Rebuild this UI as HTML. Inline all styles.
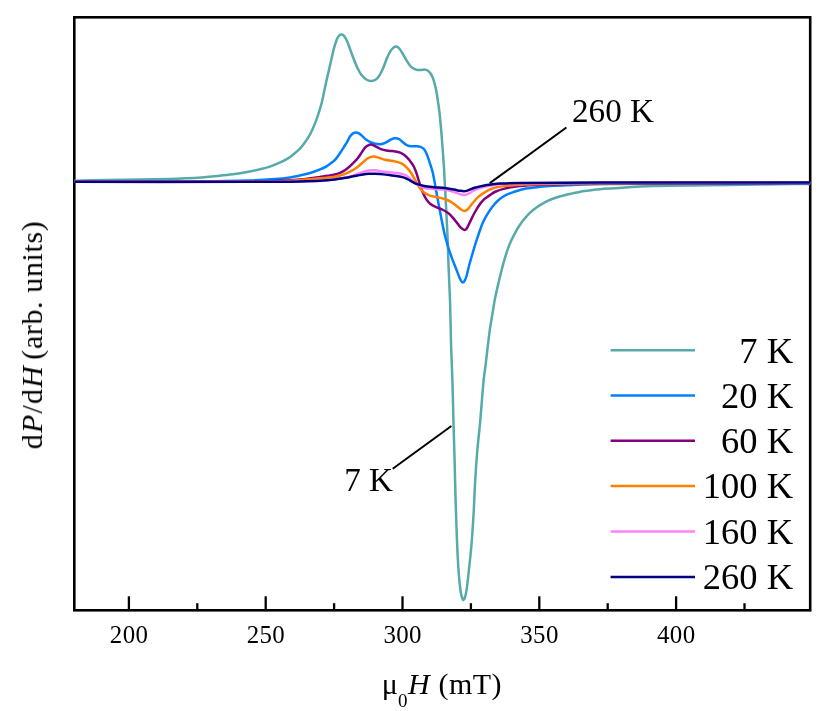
<!DOCTYPE html>
<html><head><meta charset="utf-8"><title>FMR spectra</title>
<style>
html,body{margin:0;padding:0;background:#fff;}
body{width:830px;height:711px;position:relative;overflow:hidden;font-family:"Liberation Serif",serif;}
</style></head><body>
<svg width="830" height="711" viewBox="0 0 830 711" style="position:absolute;left:0;top:0">
<rect x="0" y="0" width="830" height="711" fill="#fff"/>
<rect x="74.3" y="17.3" width="735.9000000000001" height="593.0" fill="none" stroke="#000" stroke-width="2.6"/>
<clipPath id="cp"><rect x="74.3" y="17.3" width="735.9000000000001" height="593.0"/></clipPath>
<g clip-path="url(#cp)" fill="none" stroke-width="2.5" stroke-linejoin="round" stroke-linecap="round">
<path d="M73.50,180.70C90.00,180.37 106.50,180.01 123.00,179.70C138.67,179.41 154.34,179.25 170.00,178.90C175.24,178.78 180.47,178.55 185.70,178.30C190.90,178.05 196.11,177.78 201.30,177.40C206.54,177.02 211.77,176.52 217.00,176.00C222.21,175.48 227.42,175.00 232.60,174.30C237.85,173.60 243.09,172.75 248.30,171.80C252.22,171.08 256.13,170.24 260.00,169.30C263.29,168.50 266.59,167.67 269.80,166.60C273.16,165.47 276.47,164.15 279.70,162.70C282.40,161.49 285.08,160.16 287.60,158.60C289.98,157.12 292.20,155.35 294.40,153.60C296.13,152.22 297.87,150.80 299.40,149.20C301.17,147.36 302.79,145.36 304.30,143.30C306.05,140.92 307.72,138.46 309.20,135.90C310.65,133.39 311.92,130.76 313.10,128.10C314.39,125.19 315.52,122.20 316.60,119.20C317.66,116.27 318.59,113.28 319.50,110.30C320.49,107.05 321.52,103.80 322.30,100.50C323.65,94.77 324.63,88.95 325.90,83.20C327.23,77.15 328.71,71.14 330.10,65.10C331.31,59.87 332.35,54.59 333.70,49.40C334.55,46.16 335.47,42.90 336.70,39.80C337.30,38.30 338.13,36.73 339.20,35.60C339.77,35.00 340.82,34.55 341.60,34.60C342.42,34.65 343.43,35.23 344.00,35.90C345.23,37.36 346.19,39.21 347.00,41.00C348.39,44.11 349.41,47.40 350.60,50.60C351.81,53.83 352.93,57.10 354.20,60.30C355.33,63.13 356.44,65.98 357.80,68.70C358.84,70.78 359.97,72.88 361.40,74.70C362.80,76.48 364.43,78.29 366.30,79.50C367.67,80.39 369.50,81.00 371.10,81.00C372.70,81.00 374.57,80.40 375.90,79.50C377.37,78.50 378.53,76.85 379.50,75.30C381.03,72.85 382.24,70.16 383.40,67.50C384.74,64.43 385.67,61.17 387.00,58.10C388.07,55.64 389.20,53.17 390.60,50.90C391.40,49.60 392.42,48.29 393.60,47.40C394.32,46.86 395.46,46.44 396.30,46.60C397.36,46.80 398.54,47.63 399.30,48.50C400.74,50.16 401.73,52.28 402.90,54.20C404.13,56.22 405.25,58.30 406.50,60.30C407.65,62.13 408.71,64.07 410.10,65.70C411.11,66.87 412.37,67.93 413.70,68.70C414.77,69.33 416.07,69.70 417.30,69.90C418.50,70.10 419.77,69.97 421.00,69.90C422.20,69.83 423.43,69.39 424.60,69.50C425.63,69.59 426.75,69.93 427.60,70.50C428.75,71.26 429.81,72.35 430.60,73.50C431.61,74.95 432.36,76.64 433.00,78.30C433.76,80.27 434.28,82.35 434.80,84.40C435.41,86.78 435.95,89.18 436.40,91.60C436.95,94.55 437.35,97.53 437.80,100.50C438.28,103.70 438.81,106.89 439.20,110.10C439.78,114.92 440.25,119.76 440.70,124.60C441.15,129.43 441.51,134.27 441.90,139.10C442.31,144.30 442.72,149.50 443.10,154.70C443.42,159.13 443.74,163.56 444.00,168.00C444.27,172.50 444.46,177.00 444.70,181.50C445.06,188.20 445.45,194.90 445.80,201.60C446.12,207.63 446.41,213.67 446.70,219.70C447.01,225.97 447.35,232.23 447.60,238.50C447.88,245.53 448.04,252.57 448.30,259.60C448.60,267.63 448.97,275.67 449.30,283.70C449.57,290.13 449.91,296.56 450.10,303.00C450.51,317.16 450.68,331.34 451.10,345.50C451.45,357.17 452.04,368.83 452.40,380.50C452.87,395.83 453.18,411.17 453.60,426.50C453.91,437.83 454.29,449.17 454.60,460.50C454.96,473.83 455.19,487.17 455.60,500.50C456.06,515.54 456.55,530.57 457.20,545.60C457.59,554.61 458.04,563.61 458.70,572.60C459.14,578.61 459.69,584.63 460.50,590.60C460.83,593.03 461.37,595.48 462.10,597.80C462.37,598.65 463.05,600.16 463.50,600.10C464.02,600.03 464.72,598.38 465.00,597.40C465.82,594.48 466.38,591.43 466.80,588.40C467.74,581.66 468.37,574.87 469.10,568.10C469.91,560.60 470.78,553.11 471.40,545.60C472.28,534.91 472.98,524.21 473.60,513.50C474.24,502.51 474.55,491.49 475.20,480.50C475.79,470.49 476.46,460.49 477.30,450.50C478.09,441.15 479.26,431.84 480.10,422.50C481.36,408.51 482.27,394.48 483.60,380.50C484.07,375.58 484.90,370.70 485.50,365.80C486.97,353.80 488.20,341.78 489.80,329.80C490.53,324.34 491.60,318.93 492.50,313.50C493.33,308.50 494.01,303.47 495.00,298.50C496.15,292.74 497.54,287.02 498.90,281.30C500.24,275.65 501.58,270.00 503.10,264.40C504.34,259.83 505.69,255.28 507.20,250.80C508.26,247.65 509.47,244.54 510.80,241.50C511.90,238.98 513.19,236.52 514.50,234.10C516.02,231.29 517.56,228.48 519.30,225.80C520.76,223.54 522.39,221.38 524.10,219.30C525.99,217.01 527.96,214.75 530.10,212.70C531.96,210.92 534.02,209.32 536.10,207.80C538.05,206.38 540.12,205.12 542.20,203.90C544.15,202.75 546.15,201.66 548.20,200.70C550.15,199.79 552.17,199.03 554.20,198.30C556.17,197.59 558.19,197.00 560.20,196.40C562.22,195.80 564.25,195.21 566.30,194.70C568.29,194.21 570.30,193.82 572.30,193.40C574.30,192.98 576.30,192.58 578.30,192.20C580.30,191.82 582.29,191.42 584.30,191.10C586.33,190.78 588.36,190.55 590.40,190.30C593.60,189.91 596.79,189.49 600.00,189.20C603.33,188.89 606.66,188.70 610.00,188.50C624.33,187.66 638.66,186.58 653.00,186.10C670.66,185.51 688.33,185.58 706.00,185.30C724.00,185.01 742.00,184.64 760.00,184.40C777.00,184.17 794.00,184.07 811.00,183.90" stroke="#57AAAA"/>
<path d="M73.50,181.70C115.67,181.60 157.84,181.69 200.00,181.40C216.67,181.29 233.34,181.01 250.00,180.50C258.34,180.24 266.68,179.72 275.00,179.10C280.01,178.72 285.03,178.21 290.00,177.50C293.23,177.04 296.42,176.31 299.60,175.60C302.85,174.88 306.11,174.16 309.30,173.20C312.55,172.22 315.75,171.06 318.90,169.80C321.52,168.76 324.16,167.69 326.60,166.30C328.66,165.12 330.50,163.55 332.40,162.10C333.30,161.41 334.23,160.73 335.00,159.90C336.03,158.78 336.89,157.48 337.80,156.25C338.76,154.95 339.71,153.64 340.60,152.30C341.58,150.83 342.46,149.30 343.40,147.80C344.34,146.30 345.33,144.82 346.25,143.30C346.93,142.18 347.56,141.04 348.20,139.90C348.87,138.70 349.38,137.39 350.20,136.30C351.01,135.22 351.98,134.11 353.10,133.40C353.92,132.88 355.03,132.60 356.00,132.60C356.97,132.60 358.04,132.92 358.90,133.40C360.14,134.09 361.20,135.16 362.30,136.10C363.60,137.20 364.75,138.48 366.10,139.50C367.31,140.41 368.65,141.21 370.00,141.90C371.11,142.47 372.30,142.93 373.50,143.30C374.67,143.66 375.88,143.98 377.10,144.10C378.65,144.25 380.29,144.40 381.80,144.10C383.43,143.77 384.99,142.95 386.50,142.20C388.13,141.39 389.55,140.15 391.20,139.40C392.42,138.85 393.79,138.37 395.10,138.30C396.39,138.23 397.87,138.40 399.00,139.00C400.70,139.90 402.02,141.59 403.60,142.80C404.76,143.69 405.88,144.75 407.20,145.30C408.68,145.92 410.38,146.13 412.00,146.30C413.62,146.47 415.28,146.19 416.90,146.30C418.11,146.39 419.38,146.49 420.50,146.90C421.58,147.29 422.70,147.90 423.50,148.70C424.50,149.70 425.26,151.02 425.90,152.30C426.86,154.22 427.57,156.27 428.30,158.30C429.17,160.71 429.94,163.15 430.70,165.60C431.44,167.99 432.21,170.37 432.80,172.80C433.41,175.34 433.82,177.93 434.30,180.50C434.72,182.73 435.09,184.97 435.50,187.20C436.53,192.83 437.54,198.47 438.60,204.10C439.58,209.30 440.56,214.51 441.60,219.70C442.56,224.54 443.44,229.40 444.60,234.20C445.68,238.67 446.93,243.11 448.30,247.50C449.57,251.57 451.03,255.59 452.50,259.60C453.83,263.23 455.30,266.80 456.70,270.40C457.73,273.04 458.67,275.71 459.80,278.30C460.30,279.45 460.89,280.60 461.60,281.60C461.89,282.00 462.41,282.54 462.80,282.50C463.31,282.44 463.98,281.84 464.30,281.30C465.18,279.84 465.88,278.16 466.40,276.50C467.38,273.33 467.95,270.02 468.80,266.80C469.75,263.19 470.77,259.59 471.80,256.00C472.97,251.96 474.15,247.92 475.40,243.90C476.35,240.85 477.34,237.81 478.40,234.80C479.90,230.54 481.28,226.22 483.10,222.10C484.48,218.98 486.19,215.99 488.00,213.10C489.82,210.19 491.79,207.32 494.00,204.70C495.83,202.52 497.86,200.43 500.10,198.70C502.29,197.00 504.78,195.59 507.30,194.40C510.08,193.09 513.05,192.11 516.00,191.20C519.32,190.18 522.69,189.22 526.10,188.60C530.89,187.72 535.75,187.18 540.60,186.70C545.42,186.22 550.26,185.97 555.10,185.70C562.30,185.30 569.50,184.92 576.70,184.70C587.80,184.36 598.90,184.11 610.00,184.00C640.00,183.71 670.00,183.60 700.00,183.50C737.00,183.37 774.00,183.37 811.00,183.30" stroke="#0080FF"/>
<path d="M73.50,181.80C132.33,181.77 191.17,182.11 250.00,181.70C263.34,181.61 276.67,180.89 290.00,180.30C293.34,180.15 296.67,179.83 300.00,179.50C303.34,179.17 306.67,178.73 310.00,178.30C313.34,177.87 316.67,177.36 320.00,176.90C322.67,176.53 325.34,176.23 328.00,175.80C330.34,175.43 332.71,175.08 335.00,174.50C336.91,174.02 338.83,173.43 340.60,172.60C342.59,171.67 344.52,170.49 346.30,169.20C348.28,167.76 350.12,166.10 351.90,164.40C353.86,162.53 355.78,160.58 357.50,158.50C358.94,156.75 360.12,154.78 361.40,152.90C362.55,151.21 363.46,149.30 364.80,147.80C365.72,146.77 366.97,145.93 368.20,145.30C369.04,144.87 370.09,144.46 371.00,144.60C372.53,144.83 374.03,145.73 375.50,146.40C377.10,147.13 378.56,148.18 380.20,148.80C382.23,149.58 384.36,150.21 386.50,150.60C388.56,150.98 390.71,150.83 392.80,151.10C394.88,151.37 397.02,151.58 399.00,152.20C400.62,152.71 402.19,153.55 403.60,154.50C404.92,155.39 406.08,156.55 407.20,157.70C408.48,159.02 409.70,160.42 410.80,161.90C411.93,163.42 413.04,165.01 413.90,166.70C414.87,168.61 415.60,170.66 416.30,172.70C417.40,175.90 418.27,179.18 419.30,182.40C420.27,185.41 421.11,188.48 422.30,191.40C423.31,193.88 424.48,196.34 425.90,198.60C427.08,200.48 428.42,202.40 430.10,203.80C431.82,205.23 434.04,206.13 436.10,207.10C438.07,208.03 440.25,208.53 442.20,209.50C444.28,210.53 446.37,211.68 448.20,213.10C449.97,214.48 451.50,216.21 453.00,217.90C454.70,219.81 456.18,221.92 457.80,223.90C458.98,225.35 460.04,226.96 461.40,228.20C462.27,228.99 463.50,230.00 464.50,230.00C465.34,230.00 466.35,229.01 466.90,228.20C468.15,226.37 468.89,224.13 469.90,222.10C471.49,218.90 472.97,215.63 474.70,212.50C476.17,209.83 477.72,207.17 479.50,204.70C480.92,202.73 482.52,200.83 484.30,199.20C486.02,197.63 488.06,196.40 490.00,195.10C491.89,193.83 493.74,192.42 495.80,191.50C498.57,190.26 501.54,189.35 504.50,188.60C508.28,187.65 512.13,186.88 516.00,186.40C521.77,185.68 527.59,185.31 533.40,185.00C543.02,184.48 552.66,184.10 562.30,183.90C578.20,183.57 594.10,183.45 610.00,183.40C677.00,183.18 744.00,183.20 811.00,183.10" stroke="#800080"/>
<path d="M73.50,181.80C139.00,181.73 204.50,181.90 270.00,181.60C276.67,181.57 283.34,181.13 290.00,180.80C293.34,180.63 296.67,180.38 300.00,180.10C306.67,179.54 313.34,178.93 320.00,178.30C325.00,177.83 330.03,177.50 335.00,176.80C336.90,176.53 338.76,175.95 340.60,175.40C342.53,174.82 344.45,174.19 346.30,173.40C348.22,172.59 350.10,171.65 351.90,170.60C353.83,169.48 355.71,168.24 357.50,166.90C359.45,165.44 361.24,163.77 363.10,162.20C364.44,161.07 365.67,159.80 367.10,158.80C368.11,158.10 369.24,157.50 370.40,157.10C371.48,156.73 372.68,156.42 373.80,156.50C375.44,156.62 377.09,157.23 378.70,157.70C380.79,158.30 382.79,159.21 384.90,159.70C387.49,160.31 390.18,160.50 392.80,161.00C394.88,161.40 397.01,161.72 399.00,162.40C400.61,162.95 402.21,163.73 403.60,164.70C404.94,165.63 406.08,166.89 407.20,168.10C408.48,169.49 409.74,170.94 410.80,172.50C412.17,174.51 413.28,176.69 414.50,178.80C416.11,181.59 417.47,184.57 419.30,187.20C420.67,189.17 422.23,191.15 424.10,192.60C425.83,193.95 428.00,194.87 430.10,195.60C432.40,196.40 434.91,196.64 437.30,197.20C439.74,197.77 442.23,198.22 444.60,199.00C446.66,199.68 448.72,200.52 450.60,201.60C452.72,202.82 454.64,204.41 456.60,205.90C458.24,207.15 459.69,208.69 461.40,209.80C462.32,210.39 463.49,211.05 464.50,211.00C465.52,210.95 466.71,210.26 467.50,209.50C469.31,207.76 470.64,205.45 472.30,203.50C474.24,201.22 476.10,198.80 478.30,196.80C480.10,195.17 482.24,193.90 484.30,192.60C486.14,191.44 488.01,190.25 490.00,189.40C492.31,188.42 494.75,187.63 497.20,187.10C500.51,186.39 503.92,186.00 507.30,185.70C513.55,185.14 519.83,184.75 526.10,184.50C538.16,184.02 550.23,183.65 562.30,183.50C591.53,183.15 620.77,183.08 650.00,183.00C703.67,182.85 757.33,182.87 811.00,182.80" stroke="#FF8000"/>
<path d="M73.50,181.80C145.67,181.73 217.84,181.89 290.00,181.60C300.00,181.56 310.02,181.31 320.00,180.80C325.02,180.54 330.02,179.93 335.00,179.30C338.78,178.83 342.57,178.25 346.30,177.50C348.20,177.12 350.05,176.49 351.90,175.90C353.79,175.29 355.63,174.57 357.50,173.90C359.37,173.23 361.20,172.47 363.10,171.90C364.97,171.34 366.87,170.76 368.80,170.50C370.84,170.23 372.95,170.12 375.00,170.30C377.82,170.55 380.58,171.44 383.40,171.80C386.52,172.20 389.67,172.30 392.80,172.60C395.20,172.83 397.62,173.00 400.00,173.40C401.22,173.60 402.45,173.94 403.60,174.40C404.85,174.90 406.10,175.52 407.20,176.30C408.73,177.39 410.07,178.77 411.50,180.00C412.90,181.20 414.14,182.64 415.70,183.60C418.34,185.24 421.14,186.91 424.10,187.80C427.14,188.71 430.49,188.72 433.70,189.00C437.32,189.32 441.02,189.08 444.60,189.60C447.85,190.08 451.04,191.07 454.20,192.00C456.24,192.60 458.17,193.57 460.20,194.20C461.40,194.57 462.67,195.00 463.90,195.00C465.10,195.00 466.39,194.69 467.50,194.20C469.99,193.09 472.19,191.29 474.70,190.20C477.79,188.86 481.05,187.82 484.30,186.90C486.68,186.22 489.15,185.82 491.60,185.40C494.39,184.92 497.18,184.40 500.00,184.20C506.65,183.73 513.33,183.49 520.00,183.40C546.66,183.03 573.33,182.86 600.00,182.80C670.33,182.63 740.67,182.73 811.00,182.70" stroke="#FF80FF"/>
<path d="M73.50,181.80C142.33,181.77 211.17,181.79 280.00,181.70C286.67,181.69 293.34,181.65 300.00,181.50C306.67,181.35 313.34,181.20 320.00,180.80C325.01,180.50 330.01,179.99 335.00,179.40C338.78,178.95 342.54,178.32 346.30,177.70C348.18,177.39 350.03,176.97 351.90,176.60C353.77,176.23 355.63,175.87 357.50,175.50C359.37,175.13 361.22,174.68 363.10,174.40C364.99,174.12 366.89,173.91 368.80,173.80C370.86,173.68 372.93,173.68 375.00,173.70C376.67,173.71 378.34,173.74 380.00,173.90C383.21,174.21 386.40,174.67 389.60,175.10C392.90,175.54 396.22,175.92 399.50,176.50C401.29,176.82 403.10,177.17 404.80,177.80C406.54,178.44 408.16,179.42 409.80,180.30C411.79,181.36 413.62,182.77 415.70,183.60C418.39,184.67 421.25,185.43 424.10,186.00C427.25,186.63 430.49,186.89 433.70,187.20C437.32,187.55 440.99,187.58 444.60,188.00C447.82,188.38 451.01,189.03 454.20,189.60C456.21,189.96 458.19,190.47 460.20,190.80C461.42,191.00 462.67,191.23 463.90,191.20C465.10,191.17 466.34,190.96 467.50,190.60C469.94,189.83 472.24,188.56 474.70,187.80C477.84,186.83 481.07,186.05 484.30,185.40C486.70,184.92 489.16,184.68 491.60,184.40C494.39,184.08 497.19,183.73 500.00,183.60C506.66,183.30 513.33,183.17 520.00,183.10C546.67,182.83 573.33,182.65 600.00,182.60C670.33,182.45 740.67,182.53 811.00,182.50" stroke="#000080"/>
</g>
<g stroke="#000" stroke-width="2" fill="none">
<line x1="566.4" y1="127.5" x2="489.8" y2="183.1"/>
<line x1="451.4" y1="426.0" x2="392.7" y2="468.8"/>
</g>
<g stroke="#000" stroke-width="2.3" fill="none">
<line x1="128.90" y1="610.3" x2="128.90" y2="596.3"/>
<line x1="265.70" y1="610.3" x2="265.70" y2="596.3"/>
<line x1="402.50" y1="610.3" x2="402.50" y2="596.3"/>
<line x1="539.30" y1="610.3" x2="539.30" y2="596.3"/>
<line x1="676.10" y1="610.3" x2="676.10" y2="596.3"/>
<line x1="197.30" y1="610.3" x2="197.30" y2="603.2"/>
<line x1="334.10" y1="610.3" x2="334.10" y2="603.2"/>
<line x1="470.90" y1="610.3" x2="470.90" y2="603.2"/>
<line x1="607.70" y1="610.3" x2="607.70" y2="603.2"/>
<line x1="744.50" y1="610.3" x2="744.50" y2="603.2"/>
</g>
<g stroke-width="2.5" fill="none">
<line x1="610.6" y1="350.2" x2="695" y2="350.2" stroke="#57AAAA"/>
<line x1="610.6" y1="395.5" x2="695" y2="395.5" stroke="#0080FF"/>
<line x1="610.6" y1="440.8" x2="695" y2="440.8" stroke="#800080"/>
<line x1="610.6" y1="486.1" x2="695" y2="486.1" stroke="#FF8000"/>
<line x1="610.6" y1="531.5" x2="695" y2="531.5" stroke="#FF80FF"/>
<line x1="610.6" y1="576.9" x2="695" y2="576.9" stroke="#000080"/>
</g>
<g font-family="Liberation Serif, serif" fill="#000" opacity="0.999">
<text x="793" y="362.5" font-size="36.5" text-anchor="end">7 K</text>
<text x="793" y="407.8" font-size="36.5" text-anchor="end">20 K</text>
<text x="793" y="453.1" font-size="36.5" text-anchor="end">60 K</text>
<text x="793" y="498.4" font-size="36.5" text-anchor="end">100 K</text>
<text x="793" y="543.8" font-size="36.5" text-anchor="end">160 K</text>
<text x="793" y="589.2" font-size="36.5" text-anchor="end">260 K</text>
<text x="129.10" y="643.3" font-size="24.9" letter-spacing="0.4" text-anchor="middle">200</text>
<text x="265.90" y="643.3" font-size="24.9" letter-spacing="0.4" text-anchor="middle">250</text>
<text x="402.70" y="643.3" font-size="24.9" letter-spacing="0.4" text-anchor="middle">300</text>
<text x="539.50" y="643.3" font-size="24.9" letter-spacing="0.4" text-anchor="middle">350</text>
<text x="676.30" y="643.3" font-size="24.9" letter-spacing="0.4" text-anchor="middle">400</text>
<text x="572" y="122.2" font-size="33.2">260 K</text>
<text x="344.2" y="490.6" font-size="33.2">7 K</text>
<text x="381.8" y="693.9" font-size="30">μ<tspan font-size="19" dy="13.2">0</tspan><tspan dy="-13.2" dx="0.7" font-style="italic">H</tspan><tspan dx="0.8" letter-spacing="0.45"> (mT)</tspan></text>
<text transform="translate(42,449.3) rotate(-90)" font-size="30" letter-spacing="0.62"><tspan letter-spacing="1.2">d<tspan font-style="italic">P</tspan>/d<tspan font-style="italic">H</tspan></tspan><tspan dx="-2.9"> (arb. units)</tspan></text>
</g>
</svg>
</body></html>
